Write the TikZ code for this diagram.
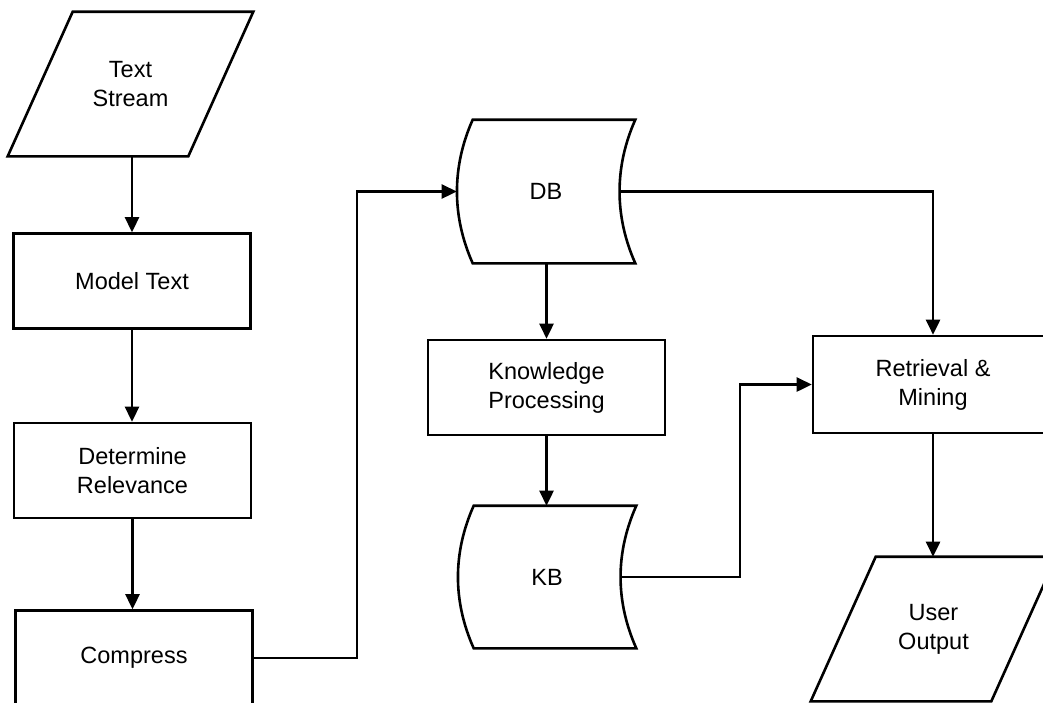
\documentclass[tikz,border=0pt]{standalone}
\usepackage{fontspec}
\setmainfont{Liberation Sans}
\usetikzlibrary{arrows.meta,calc}
\newcommand\mystored[1]{%
  \draw ($(#1.north west)+(16,0)$) -- (#1.north east)
    .. controls ($(#1.north east)+(-21,47)$) and ($(#1.south east)+(-21,-47)$) .. (#1.south east)
    -- ($(#1.south west)+(16,0)$)
    .. controls ($(#1.south west)+(-5,-47)$) and ($(#1.north west)+(-5,47)$) .. ($(#1.north west)+(16,0)$)
    -- cycle;}
\begin{document}
\begin{tikzpicture}[x=1pt,y=-1pt,
  line width=2.6pt, line join=miter,
  every node/.style={font=\fontsize{23.5}{29}\selectfont, align=center},
  proc/.style={draw, rectangle, minimum width=237pt, minimum height=95pt, inner sep=0pt},
  store/.style={inner sep=0pt, minimum width=176pt, minimum height=141pt},
  io/.style={inner sep=0pt, minimum width=243pt, minimum height=142pt},
  arr/.style={-{Triangle[length=15pt,width=14pt]}}
]
\useasboundingbox (0,0) rectangle (1043,702);
\clip (0,0) rectangle (1043,702);

% nodes
\node[io] (ts) at (130.5,84) {Text\\Stream};
\draw ($(ts.north west)+(65,0)$) -- (ts.north east) -- ($(ts.south east)+(-65,0)$) -- (ts.south west) -- cycle;

\node[proc] (mt) at (132,281) {Model Text};
\node[proc] (dr) at (132.5,470.5) {Determine\\Relevance};
\node[proc] (cp) at (134,658) {Compress};

\node[store] (db) at (546,191.5) {DB};
\mystored{db}
\node[proc] (kp) at (546.5,387.5) {Knowledge\\Processing};
\node[store, minimum height=140pt] (kb) at (547,577) {KB};
\mystored{kb}

\node[proc, minimum width=240pt, minimum height=97pt] (rm) at (933,384.5) {Retrieval \&\\Mining};
\node[io] (uo) at (933.5,629) {User\\Output};
\draw ($(uo.north west)+(65,0)$) -- (uo.north east) -- ($(uo.south east)+(-65,0)$) -- (uo.south west) -- cycle;

% helper coordinates
\coordinate (c1) at (357,0);
\coordinate (k1) at (740,0);
\coordinate (dbr) at ($(db.east)+(-16,0)$);
\coordinate (kbr) at ($(kb.east)+(-16,0)$);

% connectors
\draw[arr] (mt.north |- ts.south) -- (mt.north);
\draw[arr] (mt.south) -- (dr.north -| mt.south);
\draw[arr] (dr.south) -- (cp.north -| dr.south);
\draw[arr] (cp.east) -- (cp.east -| c1) -- (c1 |- db.west) -- (db.west);
\draw[arr] (db.south -| kp.north) -- (kp.north);
\draw[arr] (kp.south) -- (kb.north -| kp.south);
\draw[arr] (dbr) -| (rm.north);
\draw[arr] (kbr) -- (kbr -| k1) -- (k1 |- rm.west) -- (rm.west);
\draw[arr] (rm.south) -- (uo.north -| rm.south);
\end{tikzpicture}
\end{document}
